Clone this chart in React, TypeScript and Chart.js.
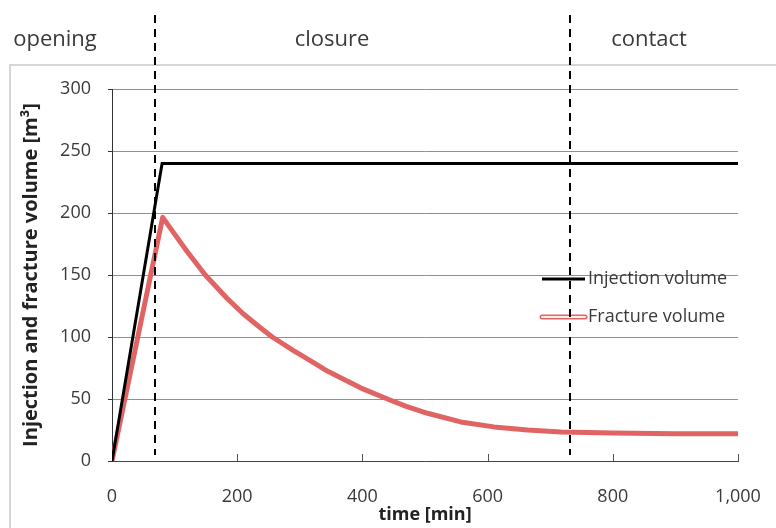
import React, { useEffect, useRef } from "react";
import { Chart, registerables } from "chart.js";

Chart.register(...registerables);

// ---- data ----
const injTime = [0, 80, 1000];
const injVolume = [0, 240, 240];

const fracTime = [0, 81, 100, 120, 149, 184, 210, 237, 256, 290, 320, 344, 370, 397, 440, 470, 504, 557, 610, 664, 717, 800, 900, 1000];
const fracVolume = [0, 196.5, 183, 169, 150, 131, 118.5, 107.5, 100, 89, 80, 72.5, 66, 59, 50, 44, 38.5, 31.5, 27.5, 25, 23.3, 22.5, 22, 22];

const phaseNames = ["opening", "closure", "contact"];
const phaseBoundaries = [69, 731];

const seriesNames = ["Injection volume", "Fracture volume"];
const yTicks = [0, 50, 100, 150, 200, 250, 300];
const xTicks = [0, 200, 400, 600, 800, 1000];

// ---- layout / styles ----
const W = 776;
const H = 528;
const FONT = "'Open Sans', sans-serif";
const TEXT = "#3a3a3a";
const PHASE_CENTERS_PX = [55, 332, 649];
const RED_OUT = "#e06464";
const RED_IN = "#fff0f0";

const toXY = (xs: number[], ys: number[]) => xs.map((x, i) => ({ x, y: ys[i] }));

const decorPlugin = {
  id: "decor",
  beforeDraw(chart: any) {
    const ctx = chart.ctx;
    ctx.save();
    ctx.fillStyle = "#ffffff";
    ctx.fillRect(0, 0, W, H);
    ctx.strokeStyle = "#d6d6d6";
    ctx.lineWidth = 2;
    ctx.strokeRect(10, 65, W + 20, H + 20);
    ctx.restore();
  },
  afterDraw(chart: any) {
    const ctx = chart.ctx;
    const xs = chart.scales.x;
    const area = chart.chartArea;
    ctx.save();
    // inward x tick marks
    ctx.strokeStyle = "#555";
    ctx.lineWidth = 1;
    xs.ticks.forEach((t: any) => {
      if (t.value === 0) return;
      const px = Math.round(xs.getPixelForValue(t.value)) + 0.5;
      ctx.beginPath();
      ctx.moveTo(px, area.bottom);
      ctx.lineTo(px, area.bottom - 7);
      ctx.stroke();
    });

    // legend
    ctx.font = `18px ${FONT}`;
    ctx.textBaseline = "middle";
    ctx.textAlign = "left";
    const lx0 = 542, lx1 = 585, tx = 588;
    const ly = [279, 317];
    ctx.strokeStyle = "#000";
    ctx.lineWidth = 3;
    ctx.beginPath();
    ctx.moveTo(lx0, ly[0]);
    ctx.lineTo(lx1, ly[0]);
    ctx.stroke();
    ctx.fillStyle = TEXT;
    ctx.fillText(seriesNames[0], tx, ly[0]);
    ctx.lineCap = "round";
    ctx.strokeStyle = RED_OUT;
    ctx.lineWidth = 5;
    ctx.beginPath();
    ctx.moveTo(lx0, ly[1]);
    ctx.lineTo(lx1, ly[1]);
    ctx.stroke();
    ctx.strokeStyle = RED_IN;
    ctx.lineWidth = 2;
    ctx.beginPath();
    ctx.moveTo(lx0, ly[1]);
    ctx.lineTo(lx1, ly[1]);
    ctx.stroke();
    ctx.lineCap = "butt";
    ctx.fillText(seriesNames[1], tx, ly[1]);

    // phase boundaries
    ctx.strokeStyle = "#000";
    ctx.lineWidth = 2;
    ctx.setLineDash([8, 6]);
    phaseBoundaries.forEach((t) => {
      const px = Math.round(xs.getPixelForValue(t));
      ctx.beginPath();
      ctx.moveTo(px, 15);
      ctx.lineTo(px, 455);
      ctx.stroke();
    });
    ctx.setLineDash([]);

    // phase labels
    ctx.font = `22px ${FONT}`;
    ctx.textAlign = "center";
    ctx.fillStyle = TEXT;
    phaseNames.forEach((n, i) => {
      ctx.fillText(n, PHASE_CENTERS_PX[i], 40);
    });
    ctx.restore();
  },
};

export default function App() {
  const ref = useRef<HTMLCanvasElement | null>(null);
  useEffect(() => {
    if (!ref.current) return;
    const chart = new Chart(ref.current, {
      type: "line",
      data: {
        datasets: [
          {
            label: seriesNames[0],
            data: toXY(injTime, injVolume),
            borderColor: "#000",
            borderWidth: 3,
            pointRadius: 0,
            tension: 0,
          },
          {
            label: seriesNames[1],
            data: toXY(fracTime, fracVolume),
            borderColor: RED_OUT,
            borderWidth: 5,
            borderJoinStyle: "round",
            pointRadius: 0,
            tension: 0,
          },
          {
            label: seriesNames[1] + " inner",
            data: toXY(fracTime, fracVolume),
            borderColor: RED_IN,
            borderWidth: 2,
            borderJoinStyle: "round",
            pointRadius: 0,
            tension: 0,
          },
        ],
      },
      options: {
        responsive: false,
        animation: false,
        layout: { padding: { left: 0, top: 89, right: 38, bottom: 0 } },
        plugins: {
          legend: { display: false },
          tooltip: { enabled: false },
        },
        scales: {
          x: {
            type: "linear",
            min: 0,
            max: 1000,
            afterBuildTicks: (s: any) => {
              s.ticks = xTicks.map((v) => ({ value: v }));
            },
            afterFit: (s: any) => {
              s.height = 67;
              s.paddingRight = 0;
              s.paddingLeft = 0;
            },
            grid: { display: true, drawOnChartArea: false, drawTicks: false },
            border: { color: "#444", width: 1 },
            ticks: {
              padding: 25,
              color: TEXT,
              font: { family: FONT, size: 18 },
              callback: (v: any) => Number(v).toLocaleString("en-US"),
              maxRotation: 0,
            },
            title: {
              display: true,
              text: "time [min]",
              color: "#222",
              font: { family: FONT, size: 18, weight: "bold" },
              padding: { top: 0, bottom: 2 },
            },
          },
          y: {
            min: 0,
            max: 300,
            afterBuildTicks: (s: any) => {
              s.ticks = yTicks.map((v) => ({ value: v }));
            },
            afterFit: (s: any) => {
              s.width = 112;
            },
            grid: { color: "#8f8f8f", tickColor: "#333", tickLength: 4, lineWidth: 1 },
            border: { color: "#333", width: 1 },
            ticks: {
              padding: 17,
              color: TEXT,
              font: { family: FONT, size: 18 },
            },
            title: {
              display: true,
              text: "Injection and fracture volume [m³]",
              color: "#222",
              font: { family: FONT, size: 20, weight: "bold" },
              padding: { top: 19, bottom: 0 },
            },
          },
        },
      },
      plugins: [decorPlugin],
    } as any);
    return () => chart.destroy();
  }, []);
  return (
    <div style={{ position: "fixed", left: 0, top: 0, width: W, height: H }}>
      <canvas ref={ref} width={W} height={H} style={{ display: "block", width: W, height: H }} />
    </div>
  );
}
